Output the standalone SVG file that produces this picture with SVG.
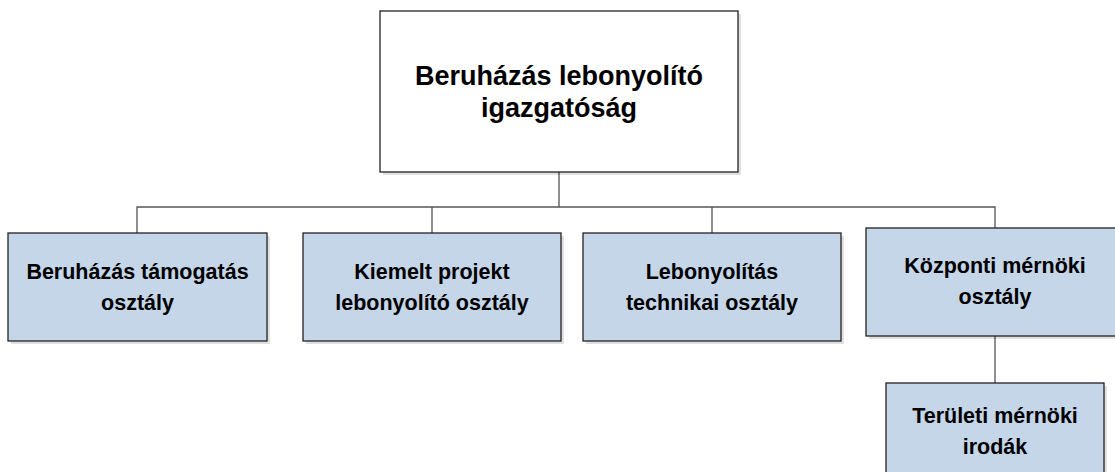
<svg xmlns="http://www.w3.org/2000/svg" width="1115" height="472" viewBox="0 0 1115 472">
<style>
.bg{fill:#ffffff}
.shadow{fill:#000000;opacity:0.12}
.top{fill:#ffffff;stroke:#222222;stroke-width:1.3}
.box{fill:#c5d6e9;stroke:#222222;stroke-width:1.3}
.conn{fill:none;stroke:#555555;stroke-width:1.3}
text{font-family:"Liberation Sans",Arial,sans-serif;font-weight:bold;fill:#000000;text-anchor:middle}
.t1{font-size:27px}
.t2{font-size:21.5px}
</style>
<rect class="bg" x="0" y="0" width="1115" height="472"/>
<g id="connectors">
<path class="conn" d="M559,172 V207 M137,233 V207 H995 V228 M432,207 V233 M712,207 V233 M995,336 V383"/>
</g>
<g id="node-top">
<rect class="shadow" x="383" y="14" width="358" height="161"/>
<rect class="top" x="380" y="11" width="358" height="161"/>
<text class="t1" x="559" y="85">Beruházás lebonyolító</text>
<text class="t1" x="559" y="117">igazgatóság</text>
</g>
<g id="node-1">
<rect class="shadow" x="11" y="236" width="259" height="108"/>
<rect class="box" x="8" y="233" width="259" height="108"/>
<text class="t2" x="137.5" y="279">Beruházás támogatás</text>
<text class="t2" x="137.5" y="310">osztály</text>
</g>
<g id="node-2">
<rect class="shadow" x="306" y="236" width="258" height="108"/>
<rect class="box" x="303" y="233" width="258" height="108"/>
<text class="t2" x="432" y="279">Kiemelt projekt</text>
<text class="t2" x="432" y="310">lebonyolító osztály</text>
</g>
<g id="node-3">
<rect class="shadow" x="586" y="236" width="258" height="108"/>
<rect class="box" x="583" y="233" width="258" height="108"/>
<text class="t2" x="712" y="279">Lebonyolítás</text>
<text class="t2" x="712" y="310">technikai osztály</text>
</g>
<g id="node-4">
<rect class="shadow" x="869" y="231" width="258" height="108"/>
<rect class="box" x="866" y="228" width="258" height="108"/>
<text class="t2" x="995" y="273">Központi mérnöki</text>
<text class="t2" x="995" y="304">osztály</text>
</g>
<g id="node-5">
<rect class="shadow" x="889" y="386" width="218" height="108"/>
<rect class="box" x="886" y="383" width="218" height="108"/>
<text class="t2" x="995" y="423">Területi mérnöki</text>
<text class="t2" x="995" y="454">irodák</text>
</g>
</svg>
